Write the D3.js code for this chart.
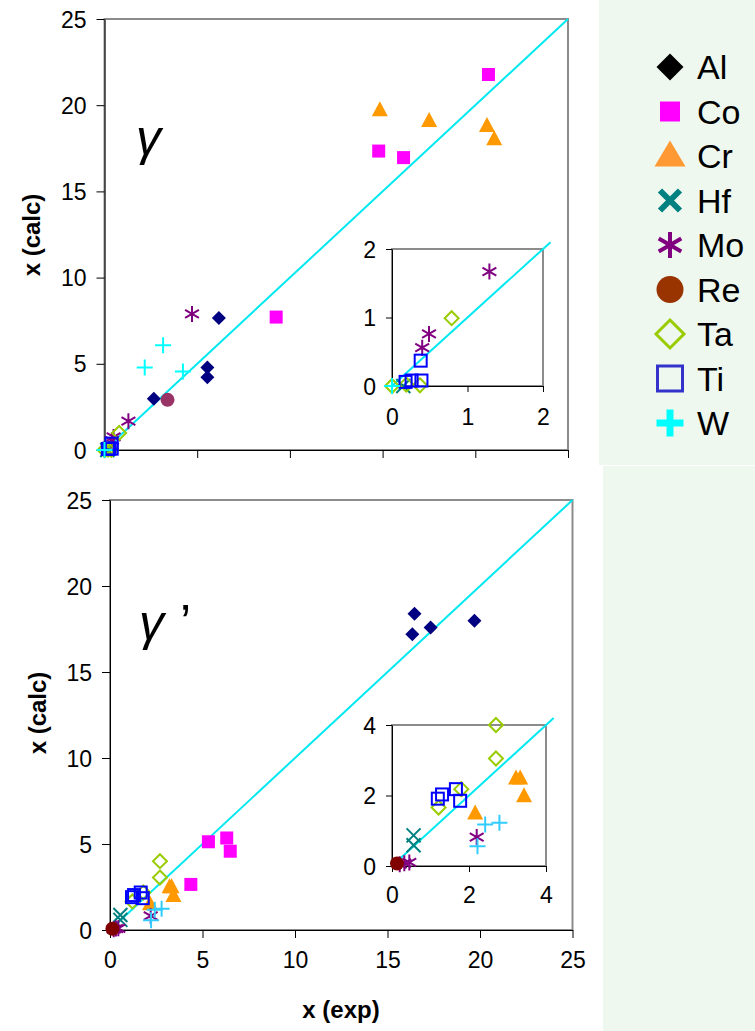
<!DOCTYPE html>
<html><head><meta charset="utf-8">
<script src="https://cdn.jsdelivr.net/npm/d3@7"></script>
<style>
body{margin:0;background:#fff}
svg{display:block}
text{font-family:"Liberation Sans",Arial,sans-serif}
</style>
</head><body>
<svg id="c" width="755" height="1031"></svg>
<script>
// ---------- data ----------
const elements = ["Al","Co","Cr","Hf","Mo","Re","Ta","Ti","W"];
const mainTicks = [0,5,10,15,20,25];
const insetTicksGamma = [0,1,2];
const insetTicksGammaPrime = [0,2,4];
const diagMain = [0,25];
const diagInsetGamma = [0,2.1];
const diagInsetGammaPrime = [0,4.2];

// gamma phase: [x(exp), x(calc)]
const gAl = [[6.17,7.66],[5.55,4.79],[5.55,4.22],[2.66,2.97]];
const gCo = [[14.79,17.34],[16.13,16.96],[20.71,21.78],[9.26,7.71]];
const gCr = [[14.85,19.71],[17.51,19.09],[20.63,18.8],[21.02,18.02]];
const gHf = [[0.15,0.0]];
const gMo = [[4.72,7.89],[1.29,1.67],[0.49,0.76],[0.40,0.56]];
const gRe = [[3.40,2.91]];
const gTa = [[0.79,0.99],[0.0,0.0],[0.19,0.02],[0.37,0.01]];
const gTi = [[0.38,0.37],[0.18,0.06],[0.26,0.08],[0.39,0.08]];
const gW  = [[2.17,4.79],[3.16,6.07],[4.23,4.55],[0.0,0.0]];

// gamma-prime phase
const pAl = [[16.46,18.38],[16.34,17.20],[17.33,17.59],[19.70,17.98]];
const pCo = [[5.32,5.13],[6.31,5.35],[6.50,4.58],[4.37,2.65]];
const pCr = [[2.16,1.49],[3.22,2.48],[3.33,2.48],[3.43,1.98]];
const pHf = [[0.56,0.87],[0.56,0.59]];
const pMo = [[2.20,0.82],[0.20,0.05],[0.32,0.08],[0.45,0.10]];
const pRe = [[0.13,0.07]];
const pTa = [[2.70,4.0],[2.70,3.05],[1.80,2.18],[1.21,1.66]];
const pTi = [[1.19,1.91],[1.30,2.03],[1.66,2.18],[1.77,1.85]];
const pW  = [[2.42,1.18],[2.79,1.23],[2.22,0.56]];

// ---------- styles ----------
const colG  = {Al:"#000080",Co:"#FF00FF",Cr:"#FF9900",Hf:"#008080",Mo:"#800080",Re:"#993366",Ta:"#99CC00",Ti:"#0000FF",W:"#00FFFF"};
const colP  = {Al:"#000080",Co:"#FF00FF",Cr:"#FF9900",Hf:"#008080",Mo:"#800080",Re:"#800000",Ta:"#99CC00",Ti:"#0000FF",W:"#33CCFF"};
const colL  = {Al:"#000000",Co:"#FF00FF",Cr:"#FF9933",Hf:"#008080",Mo:"#800080",Re:"#993300",Ta:"#99CC00",Ti:"#3333CC",W:"#00FFFF"};
const DIAG = "#00E8F0";

const svg = d3.select("#c");

// green legend background
svg.append("rect").attr("x",599).attr("y",0).attr("width",156).attr("height",465).attr("fill","#EEF8EE");
svg.append("rect").attr("x",603).attr("y",466).attr("width",152).attr("height",565).attr("fill","#EEF8EE");

function marker(g, el, cx, cy, color, big){
  const gg = g.append("g").attr("transform",`translate(${cx},${cy})`);
  if(el==="Al"){
    const r = big?13.5:7;
    gg.append("path").attr("d",`M0,${-r}L${r},0L0,${r}L${-r},0Z`).attr("fill",color);
  } else if(el==="Co"){
    const r = big?10:6.5;
    gg.append("rect").attr("x",-r).attr("y",-r).attr("width",2*r).attr("height",2*r).attr("fill",color);
  } else if(el==="Cr"){
    const w = big?15.5:8, h = big?26:15;
    gg.append("path").attr("d",`M0,${-h*0.6}L${w},${h*0.4}L${-w},${h*0.4}Z`).attr("fill",color);
  } else if(el==="Hf"){
    const r = big?10:7, sw = big?6:2;
    gg.append("path").attr("d",`M${-r},${-r}L${r},${r}M${-r},${r}L${r},${-r}`).attr("stroke",color).attr("stroke-width",sw).attr("fill","none");
  } else if(el==="Mo"){
    const r = big?13:8, sw = big?4:2;
    let d = `M0,${-r}L0,${r}`;
    const a = Math.PI/6, dx = r*Math.cos(a), dy = r*Math.sin(a);
    d += `M${-dx},${-dy}L${dx},${dy}M${-dx},${dy}L${dx},${-dy}`;
    gg.append("path").attr("d",d).attr("stroke",color).attr("stroke-width",sw).attr("fill","none");
  } else if(el==="Re"){
    gg.append("circle").attr("r",big?13.5:7).attr("fill",color);
  } else if(el==="Ta"){
    const r = big?14:7;
    gg.append("path").attr("d",`M0,${-r}L${r},0L0,${r}L${-r},0Z`).attr("fill","none").attr("stroke",color).attr("stroke-width",big?3:2);
  } else if(el==="Ti"){
    const r = big?12.5:6;
    gg.append("rect").attr("x",-r).attr("y",-r).attr("width",2*r).attr("height",2*r).attr("fill","none").attr("stroke",color).attr("stroke-width",big?3:2);
  } else if(el==="W"){
    const r = big?13.5:8, sw = big?7:2;
    gg.append("path").attr("d",`M${-r},0L${r},0M0,${-r}L0,${r}`).attr("stroke",color).attr("stroke-width",sw).attr("fill","none");
  }
}

function styleAxis(a, fs){
  a.selectAll("text").attr("font-size",fs).attr("fill","#000").attr("font-family",'"Liberation Sans",Arial,sans-serif');
  a.selectAll("line").attr("stroke","#000");
  a.select(".domain").attr("stroke","#000");
}

function drawChart(cfg){
  const g = svg.append("g");
  const x = d3.scaleLinear().domain(cfg.domain).range([cfg.left,cfg.right]);
  const y = d3.scaleLinear().domain(cfg.domain).range([cfg.bottom,cfg.top]);
  g.append("rect").attr("x",cfg.left).attr("y",cfg.top).attr("width",cfg.right-cfg.left).attr("height",cfg.bottom-cfg.top)
    .attr("fill","#fff").attr("stroke","#8c8c8c").attr("stroke-width",2);
  const ax = g.append("g").attr("transform",`translate(0,${cfg.bottom})`)
    .call(d3.axisBottom(x).tickValues(cfg.ticks).tickSize(cfg.tick).tickSizeOuter(0).tickPadding(cfg.xpad)
      .tickFormat(cfg.xLabels ? d3.format("d") : ()=>""));
  styleAxis(ax, cfg.fs);
  const ay = g.append("g").attr("transform",`translate(${cfg.left},0)`)
    .call(d3.axisLeft(y).tickValues(cfg.ticks).tickSize(cfg.tick).tickSizeOuter(0).tickPadding(cfg.ypad).tickFormat(d3.format("d")));
  styleAxis(ay, cfg.fs);
  ay.selectAll("text").attr("dy","0.35em");
  // diagonal
  g.append("path").datum(cfg.diag)
    .attr("d", d3.line().x(d=>x(d)).y(d=>y(d)))
    .attr("stroke",DIAG).attr("stroke-width",2).attr("fill","none");
  const lim = cfg.domain[1]*1.06;
  elements.forEach(el=>{
    cfg.series[el].forEach(p=>{
      if(cfg.clip && (p[0]>lim || p[1]>lim)) return;
      marker(g, el, x(p[0]), y(p[1]), cfg.colors[el], false);
    });
  });
  return g;
}

const seriesG = {Al:gAl,Co:gCo,Cr:gCr,Hf:gHf,Mo:gMo,Re:gRe,Ta:gTa,Ti:gTi,W:gW};
const seriesP = {Al:pAl,Co:pCo,Cr:pCr,Hf:pHf,Mo:pMo,Re:pRe,Ta:pTa,Ti:pTi,W:pW};

// gamma main
drawChart({left:104.5,right:568,top:19,bottom:450,domain:[0,25],ticks:mainTicks,tick:8,xpad:10,ypad:10,fs:23,
  xLabels:false,diag:diagMain,series:seriesG,colors:colG,clip:false});
// gamma inset
drawChart({left:392,right:543,top:249,bottom:386,domain:[0,2],ticks:insetTicksGamma,tick:6,xpad:17,ypad:10,fs:23,
  xLabels:true,diag:diagInsetGamma,series:seriesG,colors:colG,clip:true});
// gamma' main
drawChart({left:110,right:572.5,top:500,bottom:930,domain:[0,25],ticks:mainTicks,tick:8,xpad:14,ypad:10,fs:23,
  xLabels:true,diag:diagMain,series:seriesP,colors:colP,clip:false});
// gamma' inset
drawChart({left:392,right:546,top:725,bottom:866,domain:[0,4],ticks:insetTicksGammaPrime,tick:6,xpad:15,ypad:10,fs:23,
  xLabels:true,diag:diagInsetGammaPrime,series:seriesP,colors:colP,clip:true});

// phase labels
const serif = '"Liberation Serif","Times New Roman",serif';
svg.append("text").attr("x",136).attr("y",155).attr("font-size",50).attr("font-style","italic").attr("font-family",serif).text("γ");
svg.append("text").attr("x",139).attr("y",640).attr("font-size",50).attr("font-style","italic").attr("font-family",serif).text("γ");
svg.append("text").attr("x",180).attr("y",640).attr("font-size",50).attr("font-family",serif).text("’");

// axis titles
svg.append("text").attr("transform","translate(40,235) rotate(-90)").attr("text-anchor","middle")
  .attr("font-size",24).attr("font-weight","bold").text("x (calc)");
svg.append("text").attr("transform","translate(46,713) rotate(-90)").attr("text-anchor","middle")
  .attr("font-size",24).attr("font-weight","bold").text("x (calc)");
svg.append("text").attr("x",341).attr("y",1018).attr("text-anchor","middle")
  .attr("font-size",24).attr("font-weight","bold").text("x (exp)");

// legend
const legY = d3.scalePoint().domain(elements).range([67,423]);
elements.forEach(el=>{
  marker(svg, el, 670, legY(el), colL[el], true);
  svg.append("text").attr("x",697).attr("y",legY(el)+12).attr("font-size",34).attr("fill","#000").text(el);
});
</script>
</body></html>
